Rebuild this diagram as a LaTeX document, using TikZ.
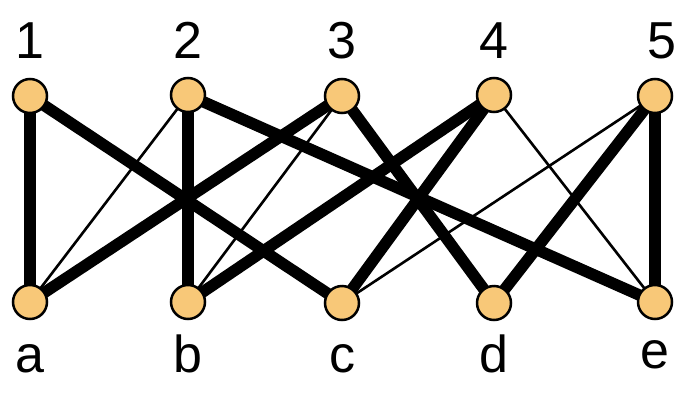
\documentclass[tikz,border=0pt]{standalone}
\usepackage{fontspec}
\setmainfont{Liberation Sans}
\definecolor{nodefill}{HTML}{F8C878}
\pgfdeclarelayer{edges}
\pgfsetlayers{edges,main}
\begin{document}
\begin{tikzpicture}[x=1pt,y=-1pt,
  vert/.style={circle,draw=black,line width=2.5pt,fill=nodefill,minimum size=34pt,inner sep=0pt},
  heavy/.style={line width=11.5pt},
  light/.style={line width=2.6pt},
  lab/.style={font=\fontsize{52}{52}\selectfont,anchor=base,inner sep=0pt}]
\useasboundingbox (0,0) rectangle (677,402);
% top vertices
\node[vert] (n1) at (30,96) {};
\node[vert] (n2) at (188,95) {};
\node[vert] (n3) at (342,96) {};
\node[vert] (n4) at (494,95) {};
\node[vert] (n5) at (655,96) {};
% bottom vertices
\node[vert] (na) at (30,302) {};
\node[vert] (nb) at (188,302) {};
\node[vert] (nc) at (342,303) {};
\node[vert] (nd) at (494,303) {};
\node[vert] (ne) at (655,302) {};
% edges
\begin{pgfonlayer}{edges}
\fill[white] (0,0) rectangle (677,402);
\draw[heavy] (n1.center) -- (na.center);
\draw[heavy] (n1.center) -- (nc.center);
\draw[light] (n2.center) -- (na.center);
\draw[heavy] (n2.center) -- (nb.center);
\draw[heavy] (n2.center) -- (ne.center);
\draw[heavy] (n3.center) -- (na.center);
\draw[light] (n3.center) -- (nb.center);
\draw[heavy] (n3.center) -- (nd.center);
\draw[heavy] (n4.center) -- (nb.center);
\draw[heavy] (n4.center) -- (nc.center);
\draw[light] (n4.center) -- (ne.center);
\draw[light] (n5.center) -- (nc.center);
\draw[heavy] (n5.center) -- (nd.center);
\draw[heavy] (n5.center) -- (ne.center);
\end{pgfonlayer}
% labels
\node[lab] (l1) at (30,58) {1};
\node[lab] (l2) at (188,58) {2};
\node[lab] (l3) at (342,58) {3};
\node[lab] (l4) at (494,58) {4};
\node[lab] (l5) at (662,58) {5};
\node[lab] (la) at (30,372) {a};
\node[lab] (lb) at (188,372) {b};
\node[lab] (lc) at (342,372) {c};
\node[lab] (ld) at (494,372) {d};
\node[lab] (le) at (655,368) {e};
\end{tikzpicture}
\end{document}
